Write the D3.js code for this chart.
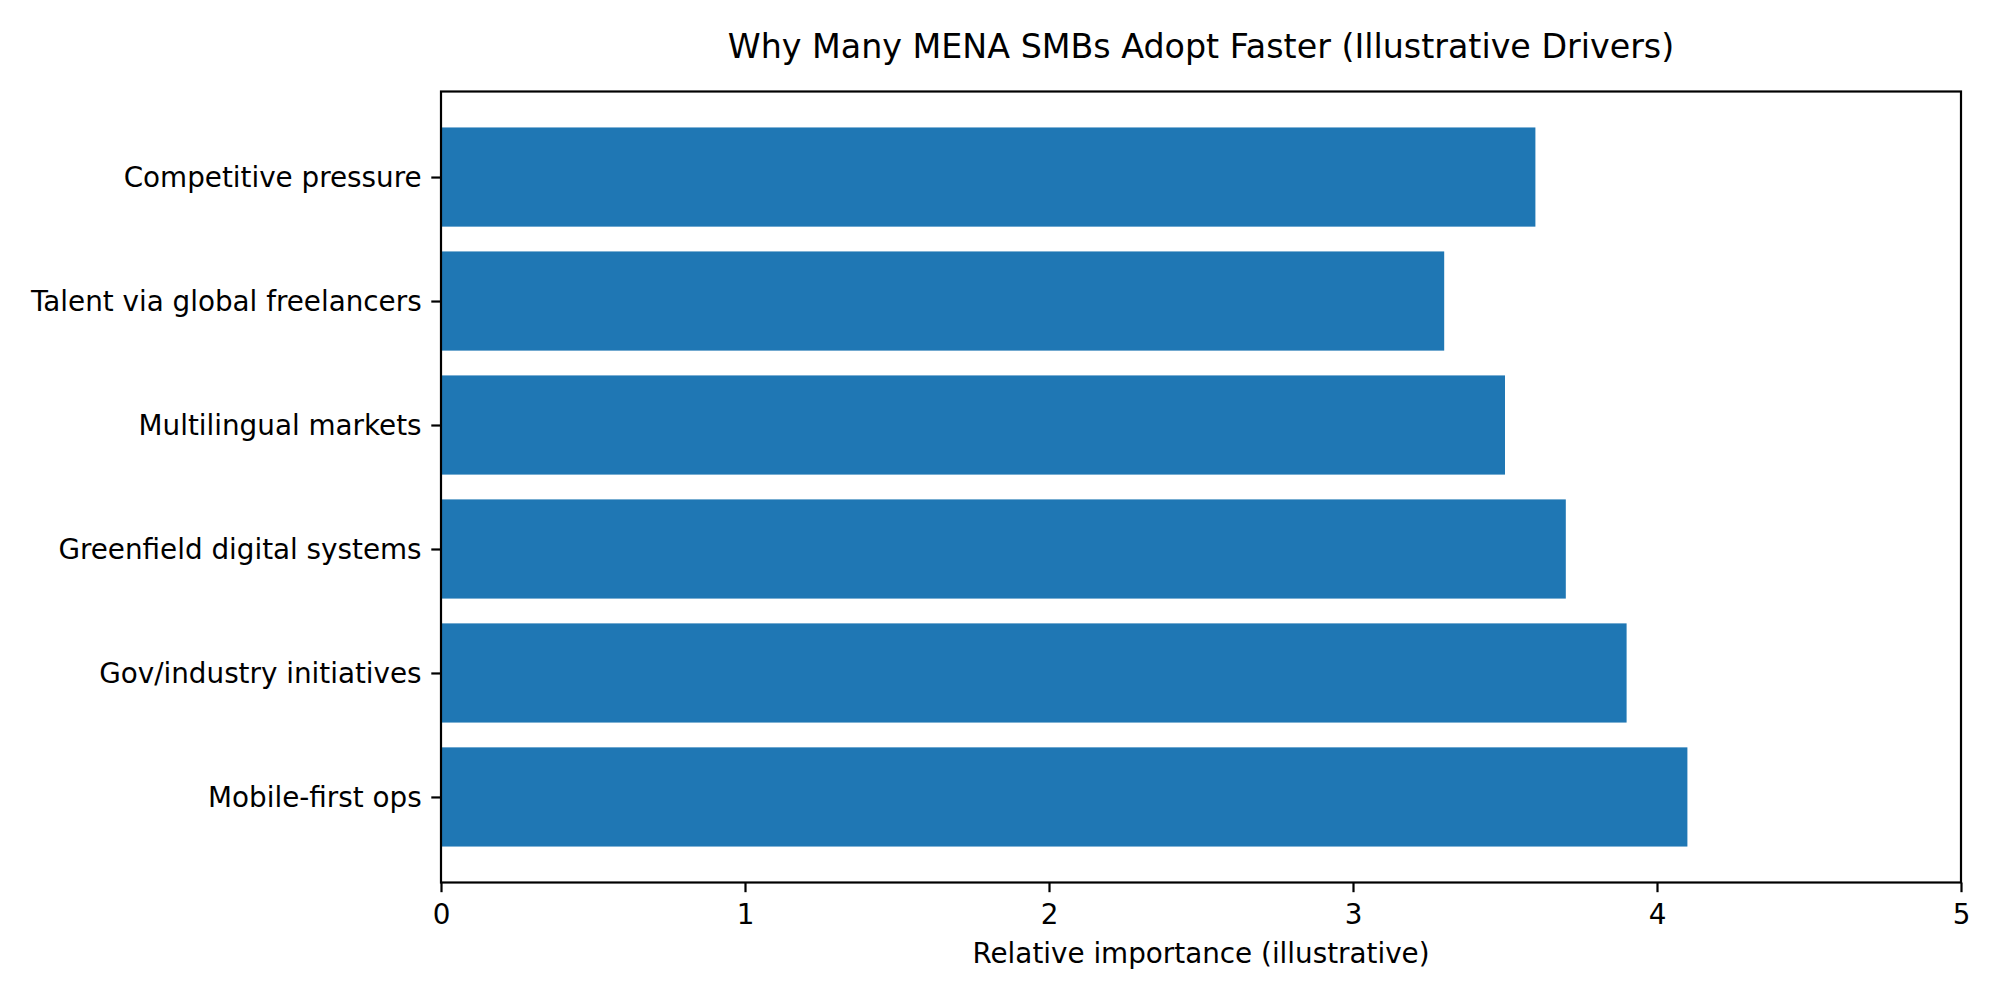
<!DOCTYPE html>
<html>
<head>
<meta charset="utf-8">
<script src="https://cdn.jsdelivr.net/npm/d3@7"></script>
<style>
  body { margin: 0; background: #fff; }
  text { font-family: "DejaVu Sans", sans-serif; fill: #000; }
</style>
</head>
<body>
<div id="chart"></div>
<script>
// categories listed bottom to top, as matplotlib barh draws them
const categories = [
  'Mobile-first ops',
  'Gov/industry initiatives',
  'Greenfield digital systems',
  'Multilingual markets',
  'Talent via global freelancers',
  'Competitive pressure'
];
const values = [4.1, 3.9, 3.7, 3.5, 3.3, 3.6];
const xTicks = [0, 1, 2, 3, 4, 5];

const width = 2000, height = 1000;
const plot = { left: 441, right: 1961, top: 91.5, bottom: 882.5 };

const svg = d3.select('#chart')
  .append('svg')
  .attr('width', width)
  .attr('height', height);

const x = d3.scaleLinear()
  .domain([0, 5])
  .range([plot.left, plot.right]);

// numeric y scale with matplotlib's 5% margins around the bars
const barHalf = 0.4;
const lo = -barHalf, hi = categories.length - 1 + barHalf;
const pad = (hi - lo) * 0.05;
const y = d3.scaleLinear()
  .domain([lo - pad, hi + pad])
  .range([plot.bottom, plot.top]);

// bars
svg.append('g')
  .selectAll('rect')
  .data(values)
  .enter().append('rect')
  .attr('x', x(0))
  .attr('y', (d, i) => y(i + barHalf))
  .attr('width', d => x(d) - x(0))
  .attr('height', (d, i) => y(i - barHalf) - y(i + barHalf))
  .style('fill', '#1f77b4');

// x axis
const xAxis = svg.append('g')
  .attr('transform', `translate(0,${plot.bottom})`)
  .call(d3.axisBottom(x).tickValues(xTicks).tickFormat(d3.format('d')).tickSize(9.7).tickPadding(12));
xAxis.select('.domain').remove();
xAxis.selectAll('line').attr('stroke', '#000').attr('stroke-width', 2.2);
xAxis.selectAll('text').style('font-size', '27.8px').style('font-family', '"DejaVu Sans", sans-serif').attr('fill', '#000');

// y axis
const yAxis = svg.append('g')
  .attr('transform', `translate(${plot.left},0)`)
  .call(d3.axisLeft(y).tickValues(d3.range(categories.length))
    .tickFormat(i => categories[i]).tickSize(9.7).tickPadding(9.7));
yAxis.select('.domain').remove();
yAxis.selectAll('line').attr('stroke', '#000').attr('stroke-width', 2.2);
yAxis.selectAll('text')
  .attr('dy', null)
  .attr('dominant-baseline', 'central')
  .style('font-size', '27.8px').style('font-family', '"DejaVu Sans", sans-serif').attr('fill', '#000');

// frame
svg.append('rect')
  .attr('x', plot.left)
  .attr('y', plot.top)
  .attr('width', plot.right - plot.left)
  .attr('height', plot.bottom - plot.top)
  .style('fill', 'none')
  .style('stroke', '#000')
  .style('stroke-width', 2.2);

// title
svg.append('text')
  .attr('x', (plot.left + plot.right) / 2)
  .attr('y', 58)
  .attr('text-anchor', 'middle')
  .style('font-size', '33.3px')
  .text('Why Many MENA SMBs Adopt Faster (Illustrative Drivers)');

// x label
svg.append('text')
  .attr('x', (plot.left + plot.right) / 2)
  .attr('y', 963)
  .attr('text-anchor', 'middle')
  .style('font-size', '27.8px')
  .text('Relative importance (illustrative)');
</script>
</body>
</html>
